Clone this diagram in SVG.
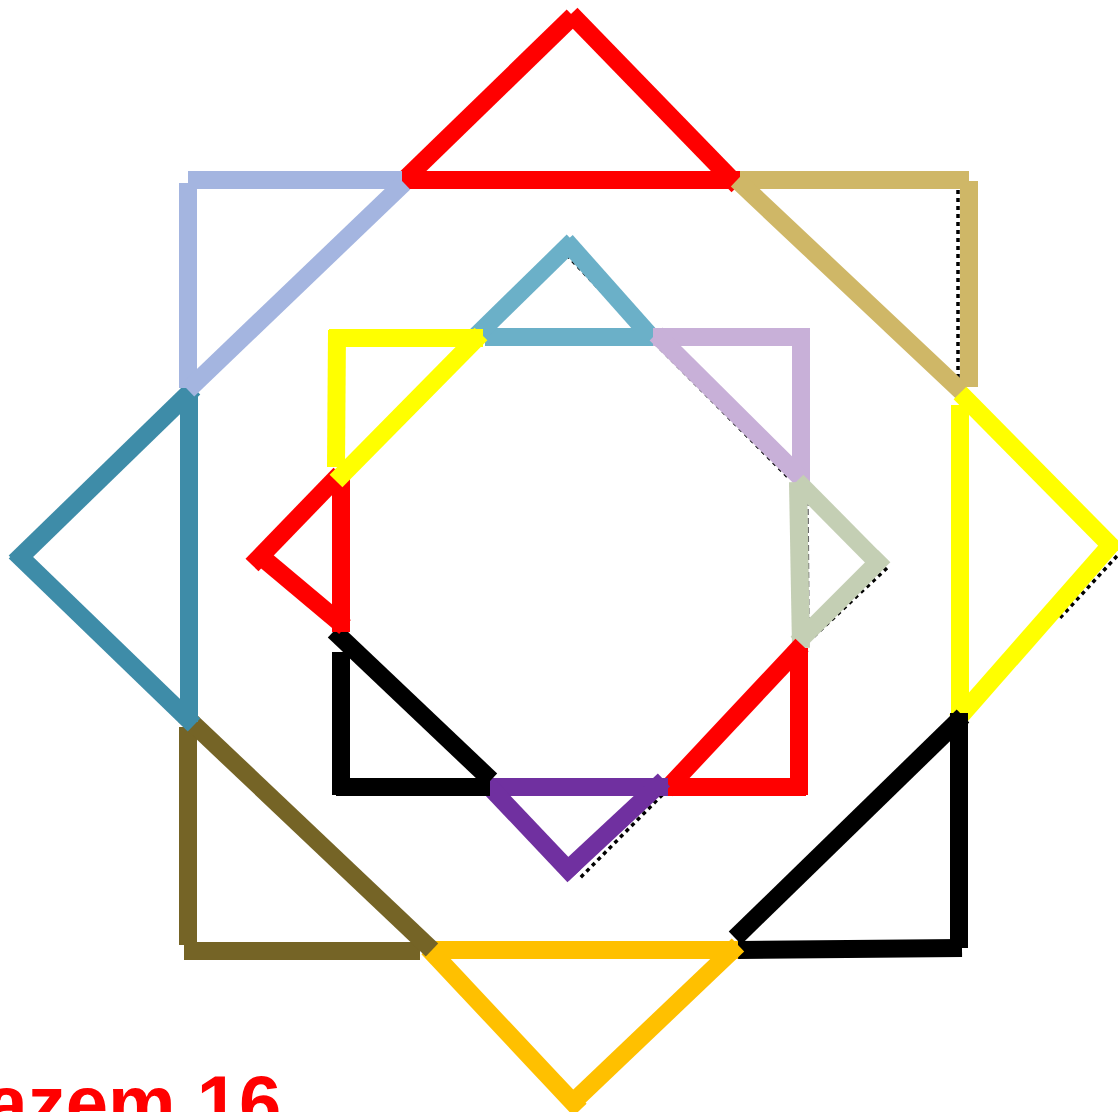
<svg xmlns="http://www.w3.org/2000/svg" width="1118" height="1112" viewBox="0 0 1118 1112">
<style>
line, polyline { fill: none; stroke-width: 18; stroke-linecap: butt; }
.dot { stroke: #000; stroke-width: 3.5; stroke-dasharray: 4 4; }
.dash { stroke: #666; stroke-width: 1.5; stroke-dasharray: 6 3; }
.red { stroke: #FF0000; }
.tan { stroke: #CFB767; }
.yel { stroke: #FFFF00; }
.blk { stroke: #000000; }
.org { stroke: #FFC000; }
.olv { stroke: #756426; }
.teal { stroke: #3E8CA8; }
.peri { stroke: #A4B5E0; }
.cyan { stroke: #6BB0C8; }
.lil { stroke: #C8B0D8; }
.sage { stroke: #C4CFB4; }
.pur { stroke: #7030A0; }
text { font-family: "Liberation Sans", Arial, sans-serif; font-weight: bold; fill: #FF0000; }
</style>
<rect width="1118" height="1112" fill="#FFFFFF"/>
<g id="dotted">
<line class="dot" x1="958" y1="190" x2="958" y2="380"/>
<line class="dot" x1="968" y1="410" x2="1102" y2="543"/>
<line class="dot" x1="1117" y1="556" x2="1060" y2="618"/>
<line class="dot" x1="567" y1="255" x2="655" y2="347"/>
<line class="dot" x1="655" y1="343" x2="789" y2="478"/>
<line class="dot" x1="887" y1="568" x2="812" y2="638"/>
<line class="dash" x1="808" y1="500" x2="809" y2="632"/>
<line class="dot" x1="668" y1="789" x2="580" y2="878"/>
</g>
<g id="outer-top">
<line class="red" x1="400" y1="180" x2="740" y2="180"/>
<line class="red" x1="398" y1="186" x2="573" y2="16"/>
<line class="red" x1="571" y1="14" x2="738" y2="186"/>
</g>
<g id="outer-top-right">
<line class="tan" x1="740" y1="180" x2="969" y2="180"/>
<line class="tan" x1="969" y1="181" x2="969" y2="387"/>
<line class="tan" x1="737" y1="180" x2="962" y2="392"/>
</g>
<g id="outer-right">
<line class="yel" x1="960" y1="405" x2="960" y2="718"/>
<line class="yel" x1="960" y1="393" x2="1115" y2="550"/>
<line class="yel" x1="1116" y1="539" x2="956" y2="721"/>
</g>
<g id="outer-bottom-right">
<line class="blk" x1="959" y1="713" x2="959" y2="948"/>
<line class="blk" x1="738" y1="950" x2="962" y2="948"/>
<line class="blk" x1="735" y1="938" x2="963" y2="716"/>
</g>
<g id="outer-bottom">
<line class="org" x1="428" y1="950" x2="738" y2="950"/>
<line class="org" x1="428" y1="948" x2="580" y2="1110"/>
<line class="org" x1="569" y1="1106" x2="738" y2="945"/>
</g>
<g id="outer-bottom-left">
<line class="olv" x1="188" y1="727" x2="188" y2="945"/>
<line class="olv" x1="184" y1="951" x2="420" y2="951"/>
<line class="olv" x1="184" y1="715" x2="432" y2="950"/>
</g>
<g id="outer-left">
<line class="teal" x1="189" y1="393" x2="189" y2="722"/>
<line class="teal" x1="194" y1="388" x2="15" y2="562"/>
<line class="teal" x1="15" y1="552" x2="194" y2="725"/>
</g>
<g id="outer-top-left">
<line class="peri" x1="188" y1="180" x2="402" y2="180"/>
<line class="peri" x1="188" y1="183" x2="188" y2="388"/>
<line class="peri" x1="404" y1="183" x2="188" y2="390"/>
</g>
<g id="inner-top">
<line class="cyan" x1="485" y1="337" x2="655" y2="337"/>
<line class="cyan" x1="476" y1="336" x2="573" y2="241"/>
<line class="cyan" x1="566" y1="241" x2="654" y2="340"/>
</g>
<g id="inner-top-right">
<line class="lil" x1="653" y1="337" x2="810" y2="337"/>
<line class="lil" x1="801" y1="330" x2="801" y2="482"/>
<line class="lil" x1="656" y1="334" x2="801" y2="478"/>
</g>
<g id="inner-right">
<line class="sage" x1="798" y1="482" x2="801" y2="648"/>
<line class="sage" x1="797" y1="481" x2="882" y2="567"/>
<line class="sage" x1="884" y1="556" x2="797" y2="643"/>
</g>
<g id="inner-bottom-right">
<line class="red" x1="799" y1="648" x2="799" y2="795"/>
<line class="red" x1="668" y1="787" x2="806" y2="787"/>
<line class="red" x1="666" y1="790" x2="802" y2="645"/>
</g>
<g id="inner-bottom">
<line class="pur" x1="485" y1="787" x2="668" y2="787"/>
<line class="pur" x1="486" y1="783" x2="574" y2="876"/>
<line class="pur" x1="563" y1="874" x2="664" y2="780"/>
</g>
<g id="inner-bottom-left">
<line class="blk" x1="341" y1="652" x2="341" y2="795"/>
<line class="blk" x1="336" y1="787" x2="490" y2="787"/>
<line class="blk" x1="334" y1="631" x2="491" y2="780"/>
</g>
<g id="inner-left">
<line class="red" x1="341" y1="477" x2="341" y2="632"/>
<line class="red" x1="340" y1="474" x2="252" y2="565"/>
<line class="red" x1="258" y1="554" x2="345" y2="627"/>
</g>
<g id="inner-top-left">
<line class="yel" x1="329" y1="338" x2="483" y2="338"/>
<line class="yel" x1="337" y1="330" x2="336" y2="467"/>
<line class="yel" x1="481" y1="334" x2="336" y2="481"/>
</g>
<text x="-44" y="1129" font-size="76">razem 16</text>
</svg>
